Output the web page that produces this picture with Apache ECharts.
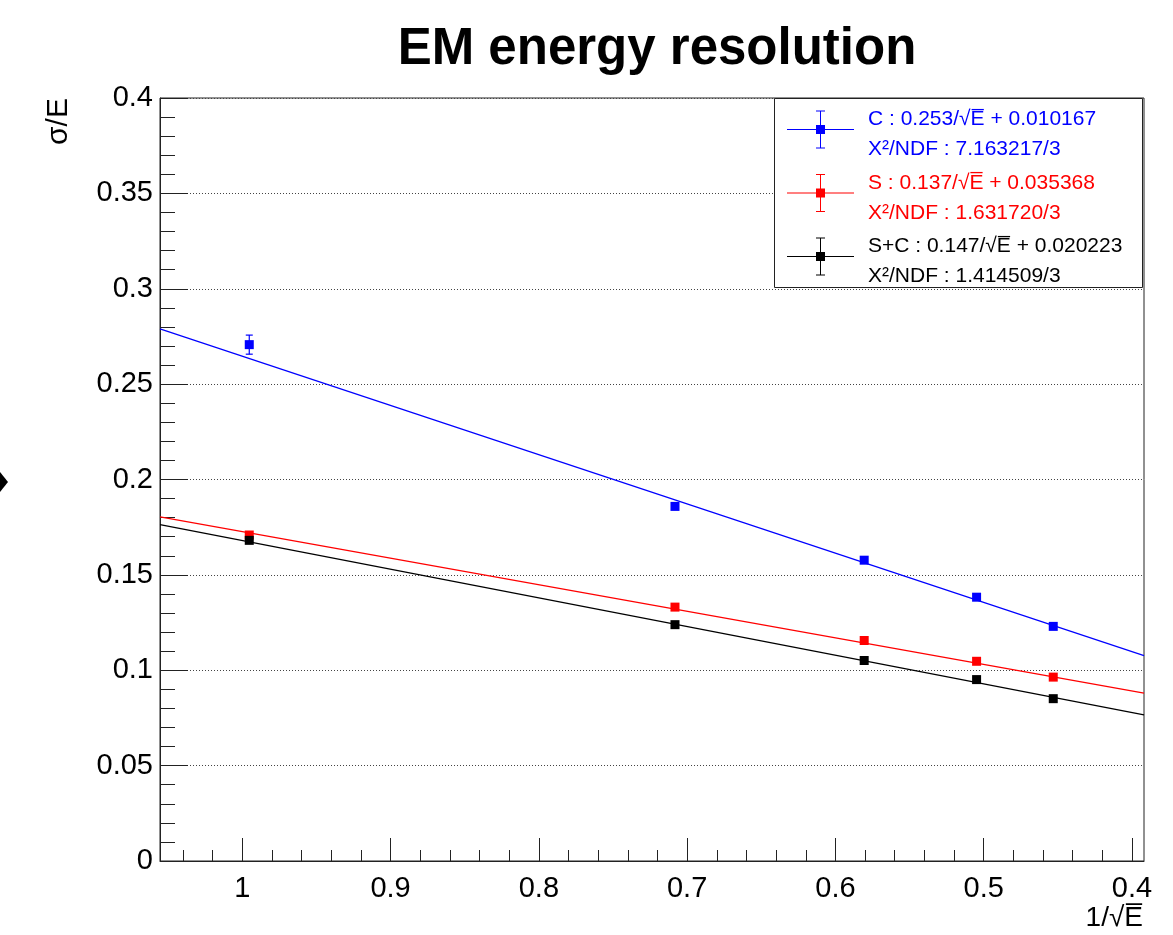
<!DOCTYPE html>
<html>
<head>
<meta charset="utf-8">
<title>EM energy resolution</title>
<script src="https://cdn.jsdelivr.net/npm/echarts@6/dist/echarts.min.js"></script>
<style>
  html, body { margin: 0; padding: 0; background: #fff; }
  #chart { width: 1173px; height: 935px; }
</style>
</head>
<body>
<div id="chart"></div>
<script>
// measured points, x = 1/sqrt(E)
const xValues = [0.9953, 0.7082, 0.5806, 0.5048, 0.4531]
const cValues = [0.2707, 0.1859, 0.1577, 0.1383, 0.1230]
const cErrors = [0.0050, 0.0015, 0.0012, 0.0012, 0.0012]
const sValues = [0.1709, 0.1331, 0.1156, 0.1047, 0.0964]
const sErrors = [0.0012, 0.0010, 0.0010, 0.0010, 0.0010]
const scValues = [0.1681, 0.1239, 0.1051, 0.0951, 0.0851]
const scErrors = [0.0012, 0.0010, 0.0010, 0.0010, 0.0010]

// fit lines, end points at the frame edges
const fitX = [1.0555, 0.3919]
const cFit = [0.2790, 0.1077]
const sFit = [0.1804, 0.0880]
const scFit = [0.1763, 0.0766]

const xMajorTicks = [0.4, 0.5, 0.6, 0.7, 0.8, 0.9, 1.0]
const xMinorTicks = [0.42, 0.44, 0.46, 0.48, 0.52, 0.54, 0.56, 0.58, 0.62, 0.64, 0.66, 0.68,
  0.72, 0.74, 0.76, 0.78, 0.82, 0.84, 0.86, 0.88, 0.92, 0.94, 0.96, 0.98, 1.02, 1.04]

const legendFit = {
  'C': 'C : 0.253/√E̅ + 0.010167',
  'S': 'S : 0.137/√E̅ + 0.035368',
  'S+C': 'S+C : 0.147/√E̅ + 0.020223'
}
const legendChi2 = {
  'C': 'Χ²/NDF : 7.163217/3',
  'S': 'Χ²/NDF : 1.631720/3',
  'S+C': 'Χ²/NDF : 1.414509/3'
}

const FONT = 'Liberation Sans, Arial, sans-serif'
const AXIS_COLOR = '#222'
const BLUE = '#0000ff'
const RED = '#ff0000'
const BLACK = '#000000'
// horizontal line, error bar with caps, square marker
const legendIcon = 'path://M0 18.5H67V19.5H0Z M33 0H34V38H33Z M29 0H38V1H29Z M29 37H38V38H29Z M29 14.5H38V23.5H29Z'

const pairs = (xs, ys) => xs.map((x, i) => [x, ys[i]])
const withErr = (ys, errs) => xValues.map((x, i) => [x, ys[i], errs[i]])

function errorBars(params, api) {
  const x = api.value(0)
  const y = api.value(1)
  const e = api.value(2)
  const top = api.coord([x, y + e])
  const bot = api.coord([x, y - e])
  const color = api.visual('color')
  const style = { stroke: color, lineWidth: 1.2 }
  return {
    type: 'group',
    children: [
      { type: 'line', shape: { x1: top[0], y1: top[1], x2: bot[0], y2: bot[1] }, style: style },
      { type: 'line', shape: { x1: top[0] - 3.5, y1: top[1], x2: top[0] + 3.5, y2: top[1] }, style: style },
      { type: 'line', shape: { x1: bot[0] - 3.5, y1: bot[1], x2: bot[0] + 3.5, y2: bot[1] }, style: style }
    ]
  }
}

function makeSeries(name, color, values, errors, fit) {
  return [
    {
      name: name,
      type: 'scatter',
      symbol: 'rect',
      symbolSize: 9,
      itemStyle: { color: color, opacity: 1 },
      data: pairs(xValues, values),
      z: 5
    },
    {
      name: name,
      type: 'custom',
      renderItem: errorBars,
      itemStyle: { color: color },
      data: withErr(values, errors),
      z: 4
    },
    {
      name: name,
      type: 'line',
      data: pairs(fitX, fit),
      symbol: 'none',
      lineStyle: { color: color, width: 1.2 },
      itemStyle: { color: color },
      z: 3
    }
  ]
}

function legendItem(name, color) {
  return {
    name: name,
    itemStyle: { color: color, borderWidth: 0 },
    lineStyle: { color: color },
    textStyle: { color: color }
  }
}

const chart = echarts.init(document.getElementById('chart'))

const option = {
  animation: false,
  backgroundColor: '#fff',
  textStyle: { fontFamily: FONT },
  title: {
    text: 'EM energy resolution',
    left: 652,
    top: 19,
    textAlign: 'center',
    textStyle: { fontFamily: FONT, fontSize: 51, fontWeight: 'bold', color: '#000' }
  },
  grid: {
    left: 160,
    right: 29,
    top: 98,
    bottom: 74,
    show: true,
    borderColor: AXIS_COLOR,
    borderWidth: 1
  },
  xAxis: [
    {
      type: 'value',
      min: 0.3919,
      max: 1.0555,
      inverse: true,
      axisLine: { show: true, lineStyle: { color: AXIS_COLOR, width: 1 } },
      axisTick: { show: true, inside: true, length: 23, customValues: xMajorTicks, lineStyle: { color: AXIS_COLOR } },
      axisLabel: { customValues: xMajorTicks, margin: 13, fontSize: 29, color: '#000', fontFamily: FONT },
      splitLine: { show: false }
    },
    {
      type: 'value',
      min: 0.3919,
      max: 1.0555,
      inverse: true,
      position: 'bottom',
      axisLine: { show: false },
      axisTick: { show: true, inside: true, length: 11, customValues: xMinorTicks, lineStyle: { color: AXIS_COLOR } },
      axisLabel: { show: false },
      splitLine: { show: false }
    }
  ],
  yAxis: {
    type: 'value',
    min: 0,
    max: 0.4,
    interval: 0.05,
    axisLine: { show: true, lineStyle: { color: AXIS_COLOR, width: 1 } },
    axisTick: { show: true, inside: true, length: 28, lineStyle: { color: AXIS_COLOR } },
    minorTick: { show: true, splitNumber: 5, length: 15, lineStyle: { color: AXIS_COLOR } },
    axisLabel: { margin: 7, fontSize: 29, color: '#000', fontFamily: FONT },
    splitLine: { show: true, lineStyle: { color: '#444', width: 1, type: [1, 2] } }
  },
  legend: {
    orient: 'vertical',
    left: 787,
    top: 109,
    padding: 0,
    itemGap: 12.5,
    itemWidth: 67,
    itemHeight: 38,
    icon: legendIcon,
    z: 6,
    formatter: (name) => '{fit|' + legendFit[name] + '}\n{chi|' + legendChi2[name] + '}',
    textStyle: {
      fontFamily: FONT,
      fontSize: 21,
      padding: [0, 0, 0, 9],
      rich: {
        fit: { fontFamily: FONT, fontSize: 21, lineHeight: 40 },
        chi: { fontFamily: FONT, fontSize: 21, lineHeight: 20 }
      }
    },
    data: [
      legendItem('C', BLUE),
      legendItem('S', RED),
      legendItem('S+C', BLACK)
    ]
  },
  graphic: [
    {
      type: 'rect',
      z: 3,
      shape: { x: 774.5, y: 98.5, width: 368, height: 189 },
      style: { fill: '#fff', stroke: AXIS_COLOR, lineWidth: 1 }
    },
    {
      type: 'text',
      x: 58.5,
      y: 121.5,
      rotation: Math.PI / 2,
      style: { text: 'σ/E', font: '30px ' + FONT, fill: '#000', align: 'center', verticalAlign: 'middle' }
    },
    {
      type: 'text',
      x: 1143,
      y: 918,
      style: { text: '1/√E̅', font: '28px ' + FONT, fill: '#000', align: 'right', verticalAlign: 'middle' }
    },
    {
      type: 'polygon',
      shape: { points: [[0, 472], [8, 482], [0, 492]] },
      style: { fill: '#000' }
    }
  ],
  series: [].concat(
    makeSeries('C', BLUE, cValues, cErrors, cFit),
    makeSeries('S', RED, sValues, sErrors, sFit),
    makeSeries('S+C', BLACK, scValues, scErrors, scFit)
  )
}

chart.setOption(option)
</script>
</body>
</html>
